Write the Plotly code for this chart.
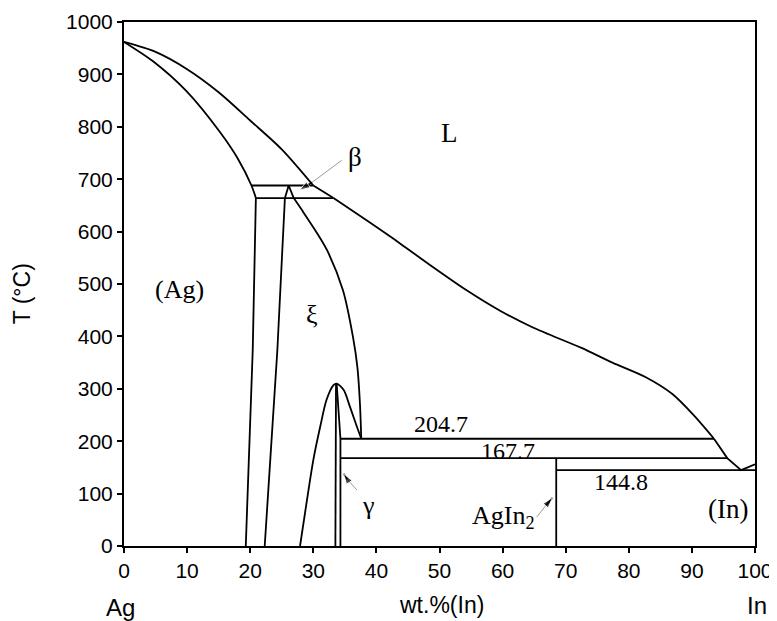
import plotly.graph_objects as go

# ---- data (wt.% In, temperature °C) ----
liq1_x = [0, 5, 10, 15, 20, 25, 30.0]
liq1_T = [962, 943, 910, 866, 812, 757, 688]
liq2_x = [30.0, 33.2]
liq2_T = [688, 664]
liq3_x = [33.2, 38.5, 43.8, 49.0, 54.3, 59.6, 64.8, 72.5, 77.4, 82.7, 86.9, 90.1, 93.5]
liq3_T = [664, 621, 577, 532, 488, 449, 417, 378, 350, 322, 290, 252, 204.7]
liq4_x = [93.5, 95.6, 97.8, 100]
liq4_T = [204.7, 167.7, 144.8, 156]

sol_x = [0, 4.6, 9.9, 15.2, 18.0, 20.2, 20.9]
sol_T = [962, 925, 868, 790, 740, 688, 664]

ag_solvus_x = [20.9, 20.4, 19.3]
ag_solvus_T = [664, 373, 0]

xi_left_x = [25.5, 24.3, 22.3]
xi_left_T = [664, 373, 0]

beta_x = [25.5, 26.1, 26.9]
beta_T = [664, 688, 664]

xi_right_x = [26.9, 28.2, 30.6, 32.2, 34.7, 36.3, 37.0, 37.4, 37.6]
xi_right_T = [664, 641, 597, 564, 488, 398, 340, 270, 204.7]

gamma_x = [27.9, 29.0, 30.0, 31.1, 32.1, 33.2, 33.7, 34.8, 35.8, 36.9, 37.6]
gamma_T = [0, 88, 164, 228, 279, 307, 310, 298, 266, 228, 204.7]

gamma_l_x = [33.6, 33.5]
gamma_l_T = [310, 0]
gamma_r_x = [33.7, 34.3, 34.3]
gamma_r_T = [310, 204.7, 0]

iso_688_x = [20.2, 30.0]
iso_688_T = [688, 688]
iso_664_x = [20.9, 33.2]
iso_664_T = [664, 664]
iso_2047_x = [34.3, 93.5]
iso_2047_T = [204.7, 204.7]
iso_1677_x = [34.3, 95.6]
iso_1677_T = [167.7, 167.7]
iso_1448_x = [68.5, 100]
iso_1448_T = [144.8, 144.8]
agin2_x = [68.5, 68.5]
agin2_T = [167.7, 0]

# pointer arrows: tail -> joint (grey shaft) -> head (black)
beta_arrow_x = [34.5, 29.8, 27.8]
beta_arrow_T = [736, 694, 679]
gamma_arrow_x = [36.9, 35.4, 34.8]
gamma_arrow_T = [107, 127, 138]
agin2_arrow_x = [65.4, 66.9, 67.9]
agin2_arrow_T = [55, 78, 92]

x_ticks = [0, 10, 20, 30, 40, 50, 60, 70, 80, 90, 100]
y_ticks = [0, 100, 200, 300, 400, 500, 600, 700, 800, 900, 1000]

SANS = "Liberation Sans, Arial, sans-serif"
SERIF = "Liberation Serif, Times New Roman, serif"

fig = go.Figure()

def add(xs, ys, spline=False):
    fig.add_trace(go.Scatter(
        x=xs, y=ys, mode="lines",
        line=dict(color="black", width=1.8,
                  shape="spline" if spline else "linear", smoothing=0.8),
        hoverinfo="skip", showlegend=False))

add(liq1_x, liq1_T, True)
add(liq2_x, liq2_T)
add(liq3_x, liq3_T, True)
add(liq4_x, liq4_T)
add(sol_x, sol_T, True)
add(ag_solvus_x, ag_solvus_T)
add(xi_left_x, xi_left_T)
add(beta_x, beta_T)
add(xi_right_x, xi_right_T, True)
add(gamma_x, gamma_T, True)
add(gamma_l_x, gamma_l_T)
add(gamma_r_x, gamma_r_T)
add(iso_688_x, iso_688_T)
add(iso_664_x, iso_664_T)
add(iso_2047_x, iso_2047_T)
add(iso_1677_x, iso_1677_T)
add(iso_1448_x, iso_1448_T)
add(agin2_x, agin2_T)

def pointer(xs, ys):
    fig.add_trace(go.Scatter(x=xs[:2], y=ys[:2], mode="lines",
                             line=dict(color="#9a9a9a", width=1.0),
                             hoverinfo="skip", showlegend=False))
    fig.add_trace(go.Scatter(x=xs[1:], y=ys[1:], mode="lines+markers",
                             line=dict(color="black", width=1.6),
                             marker=dict(symbol="arrow", size=[0, 11], angleref="previous",
                                         color="black"),
                             hoverinfo="skip", showlegend=False))

pointer(beta_arrow_x, beta_arrow_T)
pointer(gamma_arrow_x, gamma_arrow_T)
pointer(agin2_arrow_x, agin2_arrow_T)

def label(x, y, text, size=26, font=SERIF):
    fig.add_annotation(x=x, y=y, xref="x", yref="y", text=text, showarrow=False,
                       xanchor="center", yanchor="middle",
                       font=dict(family=font, size=size, color="black"))

label(51.6, 789, "L", 27)
label(36.6, 742, "β", 27)
label(8.8, 489, "(Ag)", 26)
label(29.8, 441, "ξ", 26)
label(50.3, 233, "204.7", 24)
label(60.9, 181, "167.7", 24)
label(78.7, 123, "144.8", 24)
label(95.7, 71, "(In)", 27)
label(60.2, 55, "AgIn<sub>2</sub>", 26)
label(38.8, 78, "γ", 26)

# axis end labels and titles (paper coordinates so they are never clipped)
def outer(x, y, text, size, angle=0):
    fig.add_annotation(x=x, y=y, xref="paper", yref="paper", text=text, showarrow=False,
                       xanchor="center", yanchor="middle", textangle=angle,
                       font=dict(family=SANS, size=size, color="black"))

outer(-0.005, -0.118, "Ag", 24)
outer(0.503, -0.113, "wt.%(In)", 23)
outer(1.003, -0.113, "In", 24)
outer(-0.161, 0.481, "T (°C)", 23, -90)

axis_style = dict(showline=True, linecolor="black", linewidth=2, mirror=True,
                  ticks="outside", ticklen=5, tickwidth=1.5, tickcolor="black",
                  showgrid=False, zeroline=False, automargin=False,
                  tickfont=dict(family=SANS, size=21, color="black"))
fig.update_xaxes(range=[0, 100], tickvals=x_ticks, ticktext=[str(v) for v in x_ticks], **axis_style)
fig.update_yaxes(range=[0, 1000], tickvals=y_ticks, ticktext=[str(v) for v in y_ticks], **axis_style)

# page body has an 8px margin, so the figure is sized to fit the 777x621 window
fig.update_layout(width=769, height=613, margin=dict(l=116, r=22, t=14, b=75),
                  plot_bgcolor="white", paper_bgcolor="white", showlegend=False)

fig.write_html("out.html")
